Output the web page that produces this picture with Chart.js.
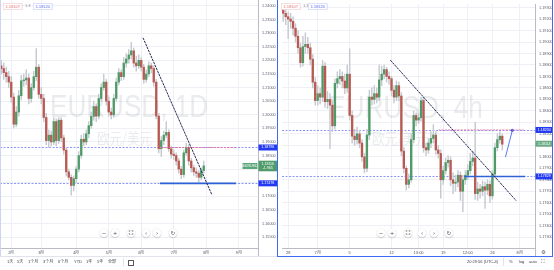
<!DOCTYPE html>
<html lang="zh-CN">
<head>
<meta charset="utf-8">
<title>EURUSD 1D / 4h</title>
<script src="https://cdn.jsdelivr.net/npm/chart.js@4.4.1/dist/chart.umd.min.js"></script>
<style>
  html, body { margin: 0; padding: 0; background: #fff; }
  body { position: relative; width: 554px; height: 270px; overflow: hidden; font-family: "Liberation Sans", Arial, "Noto Sans CJK SC", sans-serif; }
  .pane { position: absolute; top: 0; }
  .pane canvas { display: block; }
  .s { position: absolute; transform: scale(.5); transform-origin: 0 0; white-space: nowrap; line-height: 1; font-size: 8px; }
  .q { border: 1.2px solid; border-radius: 2px; padding: 2px 4px; background: #fff; }
  .sell { color: #e36d6d; border-color: #f0a4a4; }
  .buy { color: #4e63ea; border-color: #a3aef5; }
  .spread { color: #8a8d96; }
  .tb { color: #3c3f48; }
  .btn { width: 16px; height: 16px; border-radius: 50%; background: #fff; box-shadow: 0 1px 3px rgba(0,0,0,.3); text-align: center; line-height: 16px; font-size: 11px; color: #50535c; font-family: "DejaVu Sans", sans-serif; }
  .fs { display: inline-block; width: 6px; height: 6px; border: 1px dashed #555; vertical-align: middle; margin-top: -2px; }
  .ln { position: absolute; pointer-events: none; }
</style>
</head>
<body>
<div class="pane" style="left:0"><canvas id="dayChart" width="278" height="256"></canvas></div>
<div class="pane" style="left:278px"><canvas id="h4Chart" width="276" height="256"></canvas></div>

<!-- frames -->
<div class="ln" style="left:0;top:0;width:1px;height:256px;background:#cfd5ef"></div>
<div class="ln" style="left:258px;top:248px;width:1px;height:8px;background:#b9bcc5"></div>
<div class="ln" style="left:0;top:256px;width:277px;height:1px;background:#e0e3eb"></div>
<div class="ln" style="left:535px;top:248px;width:1px;height:8px;background:#b9bcc5"></div>
<div class="ln" style="left:277px;top:0;width:276px;height:257px;box-sizing:border-box;border:1.5px solid #3d6cf0;border-top:none"></div>

<!-- quote boxes -->
<div class="s q sell" style="left:3px;top:2.5px">1.18107</div>
<div class="s spread" style="left:25px;top:4px">1.3</div>
<div class="s q buy" style="left:33px;top:2.5px">1.18120</div>
<div class="s q sell" style="left:281px;top:2.5px">1.18107</div>
<div class="s spread" style="left:303px;top:4px">1.3</div>
<div class="s q buy" style="left:308px;top:2.5px">1.18120</div>

<!-- zoom / scroll buttons -->
<div class="s btn" style="left:100px;top:229px">−</div>
<div class="s btn" style="left:111px;top:229px">+</div>
<div class="s btn" style="left:127px;top:229px"><span class="fs"></span></div>
<div class="s btn" style="left:142px;top:229px">‹</div>
<div class="s btn" style="left:153px;top:229px">›</div>
<div class="s btn" style="left:169px;top:229px">↻</div>
<div class="s btn" style="left:377px;top:229px">−</div>
<div class="s btn" style="left:388px;top:229px">+</div>
<div class="s btn" style="left:404px;top:229px"><span class="fs"></span></div>
<div class="s btn" style="left:418px;top:229px">‹</div>
<div class="s btn" style="left:430px;top:229px">›</div>
<div class="s btn" style="left:445px;top:229px">↻</div>

<!-- bottom toolbars -->
<div class="s tb" style="left:7px;top:260px">1天</div>
<div class="s tb" style="left:17px;top:260px">5天</div>
<div class="s tb" style="left:28px;top:260px">1个月</div>
<div class="s tb" style="left:43px;top:260px">3个月</div>
<div class="s tb" style="left:58px;top:260px">6个月</div>
<div class="s tb" style="left:74px;top:260px">YTD</div>
<div class="s tb" style="left:86px;top:260px">1年</div>
<div class="s tb" style="left:97px;top:260px">5年</div>
<div class="s tb" style="left:108px;top:260px">全部</div>
<div class="ln" style="left:123px;top:258px;width:1px;height:8px;background:#e0e3eb"></div>
<div class="ln" style="left:128px;top:259.5px;width:4px;height:4px;border:0.7px solid #555;border-radius:0.6px"></div>

<div class="s tb" style="left:467px;top:260px">20:29:56 (UTC-4)</div>
<div class="ln" style="left:503px;top:258px;width:1px;height:8px;background:#e0e3eb"></div>
<div class="s tb" style="left:509px;top:260px">%</div>
<div class="s tb" style="left:519px;top:260px">log</div>
<div class="s tb" style="left:529px;top:260px">auto</div>
<div class="s tb" style="left:541px;top:259px;font-size:10px;font-family:'DejaVu Sans'">⛶</div>
<div class="s tb" style="left:541px;top:248.5px;font-size:11px;font-family:'DejaVu Sans';color:#555">⚙</div>

<script>
// ---- daily EURUSD (one candle per slot) ----
const dayTickIdx = [4, 16, 30, 43, 56, 69, 82, 95];
const dayTickText = ['2月', '3月', '4月', '5月', '6月', '7月', '8月', '9月'];
const dayOpen = [
  1.2180,1.2170,1.2155,1.2140,1.2120,1.2065,1.1965,1.2010,1.2070,1.2125,
  1.2128,1.2135,1.2060,1.2100,1.2140,1.2175,1.2075,1.2060,1.1990,1.1905,
  1.1925,1.1900,1.1975,1.1905,1.1980,1.1915,1.1870,1.1790,1.1770,1.1740,
  1.1765,1.1800,1.1850,1.1910,1.1900,1.1930,1.1960,1.1994,1.2030,1.1995,
  1.2060,1.2100,1.2120,1.2050,1.2010,1.2000,1.2060,1.2120,1.2155,1.2140,
  1.2190,1.2205,1.2220,1.2235,1.2190,1.2180,1.2200,1.2175,1.2130,1.2150,
  1.2180,1.2170,1.2120,1.1995,1.1875,1.1905,1.1925,1.1935,1.1875,1.1855,
  1.1850,1.1830,1.1800,1.1780,1.1860,1.1880,1.1830,1.1805,1.1790,1.1785,
  1.1770,1.1795];
const dayHigh = [
  1.2200,1.2190,1.2175,1.2160,1.2140,1.2080,1.2030,1.2090,1.2145,1.2150,
  1.2165,1.2150,1.2115,1.2160,1.2243,1.2185,1.2100,1.2075,1.2005,1.1945,
  1.1940,1.1990,1.1985,1.1990,1.1990,1.1925,1.1880,1.1800,1.1780,1.1775,
  1.1810,1.1865,1.1925,1.1930,1.1945,1.1975,1.2010,1.2050,1.2040,1.2075,
  1.2115,1.2150,1.2130,1.2065,1.2025,1.2075,1.2135,1.2170,1.2165,1.2210,
  1.2225,1.2240,1.2266,1.2245,1.2215,1.2220,1.2210,1.2185,1.2165,1.2195,
  1.2190,1.2180,1.2130,1.2005,1.1920,1.1940,1.1975,1.1945,1.1885,1.1870,
  1.1860,1.1840,1.1810,1.1870,1.1895,1.1890,1.1840,1.1815,1.1805,1.1795,
  1.1805,1.1830];
const dayLow = [
  1.2150,1.2130,1.2120,1.2100,1.2045,1.1952,1.1955,1.1995,1.2055,1.2105,
  1.2110,1.2040,1.2045,1.2090,1.2125,1.2060,1.2040,1.1975,1.1890,1.1880,
  1.1885,1.1890,1.1885,1.1895,1.1900,1.1855,1.1775,1.1760,1.1704,1.1720,
  1.1750,1.1790,1.1840,1.1885,1.1890,1.1915,1.1950,1.1980,1.1975,1.1985,
  1.2050,1.2090,1.2035,1.1995,1.1985,1.1990,1.2050,1.2110,1.2125,1.2130,
  1.2175,1.2190,1.2205,1.2175,1.2160,1.2170,1.2160,1.2115,1.2120,1.2140,
  1.2155,1.2105,1.1985,1.1860,1.1847,1.1890,1.1915,1.1865,1.1840,1.1835,
  1.1815,1.1785,1.1765,1.1770,1.1850,1.1815,1.1790,1.1775,1.1770,1.1752,
  1.1760,1.1785];
const dayClose = [
  1.2170,1.2155,1.2140,1.2120,1.2065,1.1965,1.2010,1.2070,1.2125,1.2128,
  1.2135,1.2060,1.2100,1.2140,1.2175,1.2075,1.2060,1.1990,1.1905,1.1925,
  1.1900,1.1975,1.1905,1.1980,1.1915,1.1870,1.1790,1.1770,1.1740,1.1765,
  1.1800,1.1850,1.1910,1.1900,1.1930,1.1960,1.1994,1.2030,1.1995,1.2060,
  1.2100,1.2120,1.2050,1.2010,1.2000,1.2060,1.2120,1.2155,1.2140,1.2190,
  1.2205,1.2220,1.2235,1.2190,1.2180,1.2200,1.2175,1.2130,1.2150,1.2180,
  1.2170,1.2120,1.1995,1.1875,1.1905,1.1925,1.1935,1.1875,1.1855,1.1850,
  1.1830,1.1800,1.1780,1.1860,1.1880,1.1830,1.1805,1.1790,1.1785,1.1770,
  1.1795,1.1812];
const dayLevels = [1.18796, 1.17478];
const dayLast = 1.18116;
const dayTrend = [{ x: 56.7, y: 1.2283 }, { x: 84.3, y: 1.1705 }];
const dayResist = [{ x: 63.5, y: 1.18796 }, { x: 94.3, y: 1.18796 }];
const daySupport = [{ x: 63.5, y: 1.17478 }, { x: 93.9, y: 1.17478 }];

// ---- 4h EURUSD ----
const h4TickIdx = [2, 14, 27, 44, 55, 65, 75, 85, 96];
const h4TickText = ['28', '7月', '5', '12', '13:00', '19', '12:00', '26', '8月'];
const h4Open = [
  1.1928,1.1925,1.1922,1.1920,1.1918,1.1912,1.1905,1.1895,1.1882,1.1896,
  1.1898,1.1895,1.1885,1.1865,1.1849,1.1855,1.1852,1.1879,1.1848,1.1850,
  1.1845,1.1827,1.1864,1.1868,1.1870,1.1866,1.1860,1.1872,1.1836,1.1818,
  1.1815,1.1820,1.1812,1.1800,1.1790,1.1819,1.1852,1.1850,1.1855,1.1852,
  1.1867,1.1872,1.1876,1.1870,1.1868,1.1858,1.1852,1.1862,1.1853,1.1805,
  1.1790,1.1776,1.1780,1.1815,1.1836,1.1832,1.1834,1.1849,1.1808,1.1806,
  1.1812,1.1816,1.1819,1.1806,1.1803,1.1780,1.1788,1.1795,1.1797,1.1780,
  1.1777,1.1778,1.1784,1.1770,1.1780,1.1784,1.1788,1.1796,1.1799,1.1768,
  1.1772,1.1770,1.1774,1.1771,1.1776,1.1766,1.1785,1.1808,1.1815,1.1818];
const h4High = [
  1.1933,1.1930,1.1926,1.1925,1.1922,1.1916,1.1910,1.1899,1.1905,1.1908,
  1.1904,1.1899,1.1889,1.1869,1.1862,1.1860,1.1884,1.1882,1.1857,1.1855,
  1.1849,1.1868,1.1874,1.1876,1.1874,1.1872,1.1880,1.1894,1.1840,1.1824,
  1.1826,1.1823,1.1815,1.1803,1.1824,1.1858,1.1860,1.1862,1.1860,1.1880,
  1.1879,1.1880,1.1878,1.1874,1.1870,1.1862,1.1866,1.1865,1.1856,1.1808,
  1.1792,1.1785,1.1820,1.1840,1.1838,1.1838,1.1852,1.1852,1.1812,1.1816,
  1.1822,1.1828,1.1822,1.1810,1.1806,1.1792,1.1799,1.1801,1.1800,1.1786,
  1.1784,1.1788,1.1787,1.1784,1.1788,1.1793,1.1803,1.1805,1.1830,1.1778,
  1.1776,1.1779,1.1778,1.1780,1.1779,1.1788,1.1812,1.1820,1.1822,1.1820];
const h4Low = [
  1.1918,1.1915,1.1903,1.1912,1.1906,1.1900,1.1890,1.1878,1.1879,1.1890,
  1.1890,1.1880,1.1860,1.1845,1.1845,1.1846,1.1848,1.1843,1.1842,1.1807,
  1.1822,1.1824,1.1860,1.1863,1.1860,1.1855,1.1856,1.1832,1.1812,1.1810,
  1.1811,1.1808,1.1796,1.1786,1.1787,1.1815,1.1845,1.1846,1.1847,1.1849,
  1.1862,1.1868,1.1865,1.1863,1.1853,1.1847,1.1849,1.1849,1.1801,1.1786,
  1.1771,1.1773,1.1778,1.1812,1.1827,1.1829,1.1831,1.1804,1.1801,1.1803,
  1.1808,1.1812,1.1802,1.1799,1.1764,1.1776,1.1785,1.1791,1.1775,1.1768,
  1.1770,1.1774,1.1762,1.1752,1.1776,1.1780,1.1785,1.1792,1.1763,1.1762,
  1.1764,1.1766,1.1755,1.1767,1.1760,1.1763,1.1782,1.1805,1.1812,1.1806];
const h4Close = [
  1.1925,1.1922,1.1920,1.1918,1.1912,1.1905,1.1895,1.1882,1.1896,1.1898,
  1.1895,1.1885,1.1865,1.1849,1.1855,1.1852,1.1879,1.1848,1.1850,1.1845,
  1.1827,1.1864,1.1868,1.1870,1.1866,1.1860,1.1872,1.1836,1.1818,1.1815,
  1.1820,1.1812,1.1800,1.1790,1.1819,1.1852,1.1850,1.1855,1.1852,1.1867,
  1.1872,1.1876,1.1870,1.1868,1.1858,1.1852,1.1862,1.1853,1.1805,1.1790,
  1.1776,1.1780,1.1815,1.1836,1.1832,1.1834,1.1849,1.1808,1.1806,1.1812,
  1.1816,1.1819,1.1806,1.1803,1.1780,1.1788,1.1795,1.1797,1.1780,1.1777,
  1.1778,1.1784,1.1770,1.1780,1.1784,1.1788,1.1796,1.1799,1.1768,1.1772,
  1.1770,1.1774,1.1771,1.1776,1.1766,1.1785,1.1808,1.1815,1.1818,1.1811];
const h4Levels = [1.18234, 1.17829];
const h4Last = 1.18114;
const h4Trend = [{ x: 43.5, y: 1.18843 }, { x: 94.7, y: 1.17617 }];
const h4Resist = [{ x: 63.1, y: 1.18234 }, { x: 98.3, y: 1.18234 }];
const h4Support = [{ x: 73.5, y: 1.17829 }, { x: 98.3, y: 1.17829 }];
const h4Arrow = [{ x: 90.3, y: 1.17998 }, { x: 93.1, y: 1.18231 }];

const RED = '#b85a52', GREEN = '#4f9a68', WICK = '#c6c9d0';
const FONT = '"Liberation Sans", Arial, sans-serif';

function fitText(ctx, text, cx, base, width, font) {
  ctx.save();
  ctx.font = font;
  const k = width / ctx.measureText(text).width;
  ctx.translate(cx, base);
  ctx.scale(k, 1);
  ctx.fillText(text, 0, 0);
  ctx.restore();
}

function tag(ctx, x, yc, w, h, bg, lines) {
  ctx.fillStyle = bg;
  ctx.fillRect(x, yc - h / 2, w, h);
  ctx.fillStyle = '#fff';
  lines.forEach((t, i) => ctx.fillText(t, x + w / 2, yc + (i - (lines.length - 1) / 2) * 4.4));
}

// watermark, full-width price levels and axis price tags
const overlay = {
  id: 'overlay',
  beforeDatasetsDraw(chart, _a, o) {
    const { ctx, chartArea: a, scales: { y } } = chart;
    ctx.save();
    ctx.fillStyle = 'rgba(105,112,130,0.14)';
    ctx.textAlign = 'center';
    ctx.textBaseline = 'alphabetic';
    fitText(ctx, o.title, o.titleAt[0], o.titleAt[1], o.titleAt[2], '32px ' + FONT);
    fitText(ctx, o.sub, o.subAt[0], o.subAt[1], o.subAt[2], '15px "Noto Sans CJK SC", sans-serif');
    ctx.setLineDash([2, 1.5]);
    ctx.lineWidth = 0.8;
    ctx.strokeStyle = '#6f7cff';
    o.levels.forEach(v => {
      const py = Math.round(y.getPixelForValue(v)) + 0.5;
      ctx.beginPath();
      ctx.moveTo(a.left, py);
      ctx.lineTo(a.right, py);
      ctx.stroke();
    });
    ctx.restore();
  },
  afterDraw(chart, _a, o) {
    const { ctx, chartArea: a, scales: { y } } = chart;
    const x0 = a.right + 0.5, w = chart.width - a.right - 1.5;
    ctx.save();
    ctx.font = '3.6px ' + FONT;
    ctx.textAlign = 'center';
    ctx.textBaseline = 'middle';
    o.levels.forEach(v => tag(ctx, x0, y.getPixelForValue(v), w, 6, '#2439f3', [v.toFixed(5)]));
    const py = y.getPixelForValue(o.last);
    const lines = o.lastSub ? [o.last.toFixed(5), o.lastSub] : [o.last.toFixed(5)];
    tag(ctx, x0, py, w, lines.length * 4.6 + 1.4, o.lastColor, lines);
    if (o.symbol) tag(ctx, a.right - 15.5, py, 15, 6, '#5aa57a', [o.symbol]);
    ctx.restore();
  }
};

function lineSet(data, color, width, dash, dot) {
  return {
    type: 'line', data, borderColor: color, borderWidth: width, borderDash: dash,
    pointRadius: dot ? [0, 1.5] : 0, pointBackgroundColor: color, pointBorderWidth: 0,
    order: 0
  };
}

function candleChart(id, d) {
  const up = d.open.map((o, i) => d.close[i] >= o);
  return new Chart(document.getElementById(id), {
    type: 'bar',
    data: {
      datasets: [
        ...d.lines,
        {
          data: d.open.map((o, i) => ({ x: i, y: [o, d.close[i]] })),
          backgroundColor: up.map(u => (u ? GREEN : RED)),
          barThickness: 1.7, minBarLength: 0.6, grouped: false, order: 1
        },
        {
          data: d.low.map((l, i) => ({ x: i, y: [l, d.high[i]] })),
          backgroundColor: WICK, barThickness: 0.8, grouped: false, order: 2
        }
      ]
    },
    options: {
      responsive: false, animation: false, events: [],
      layout: { padding: 0 },
      plugins: { legend: { display: false }, tooltip: { enabled: false }, overlay: d.overlay },
      scales: {
        x: {
          type: 'linear', min: -0.5, max: d.xMax, offset: false,
          afterBuildTicks: s => { s.ticks = d.tickIdx.map(v => ({ value: v })); },
          afterFit: s => { s.height = 8; s.paddingLeft = 0; s.paddingRight = 0; },
          ticks: { callback: (v, i) => d.tickText[i], autoSkip: false, maxRotation: 0, padding: 2, color: '#4d505b', font: { size: 4, family: FONT } },
          grid: { color: '#eef0f5', drawTicks: false, offset: false },
          border: { color: '#b9bcc5' }
        },
        y: {
          position: 'right', min: d.yMin, max: d.yMax, beginAtZero: false,
          afterFit: s => { s.width = d.axisW; s.paddingTop = 0; s.paddingBottom = 0; },
          ticks: { stepSize: d.step, includeBounds: false, callback: v => v.toFixed(5), padding: 4, color: '#5d6170', font: { size: 3.8, family: FONT } },
          grid: { color: '#eef0f5', drawTicks: false },
          border: { color: '#b9bcc5' }
        }
      }
    },
    plugins: [overlay]
  });
}

candleChart('dayChart', {
  open: dayOpen, high: dayHigh, low: dayLow, close: dayClose,
  tickIdx: dayTickIdx, tickText: dayTickText,
  xMax: 102.7, yMin: 1.1510, yMax: 1.2422, step: 0.005, axisW: 20,
  lines: [
    lineSet(dayTrend, '#262a57', 1, [2.5, 0.8]),
    lineSet(dayResist, '#e8739b', 0.9, [2, 1.2]),
    lineSet(daySupport, '#2f62d8', 1.6, [])
  ],
  overlay: {
    title: 'EURUSD, 1D', titleAt: [129, 117, 158],
    sub: '欧元/美元', subAt: [124.5, 144, 55],
    levels: dayLevels, last: dayLast, lastSub: '-1.965', lastColor: '#4f9b6a', symbol: 'EURUSD'
  }
});

candleChart('h4Chart', {
  open: h4Open, high: h4High, low: h4Low, close: h4Close,
  tickIdx: h4TickIdx, tickText: h4TickText,
  xMax: 102.3, yMin: 1.17206, yMax: 1.19331, step: 0.001, axisW: 19,
  lines: [
    lineSet(h4Trend, '#262a57', 1, [2.5, 0.8]),
    lineSet(h4Resist, '#e8739b', 0.9, [2, 1.2]),
    lineSet(h4Support, '#2f62d8', 1.6, []),
    lineSet(h4Arrow, '#2f55f0', 0.8, [], true)
  ],
  overlay: {
    title: 'EURUSD, 4h', titleAt: [127.5, 118, 155],
    sub: '欧元/美元', subAt: [122, 144, 56],
    levels: h4Levels, last: h4Last, lastSub: null, lastColor: '#6aab84', symbol: null
  }
});
</script>
</body>
</html>
